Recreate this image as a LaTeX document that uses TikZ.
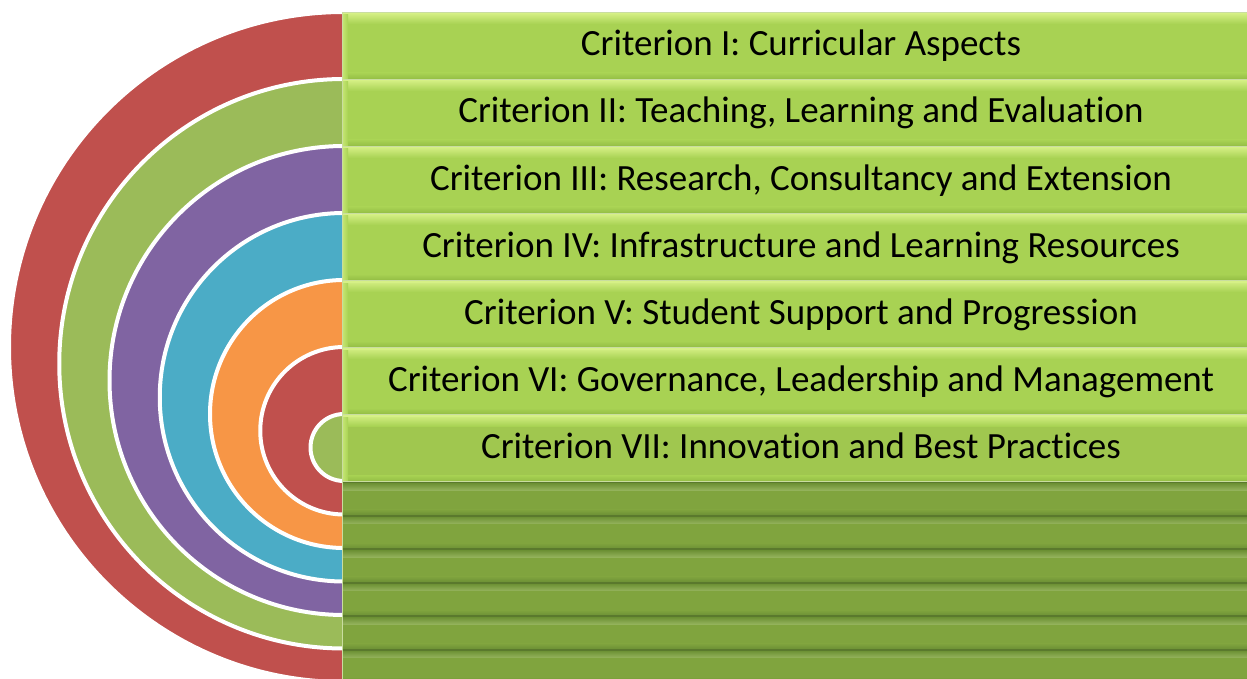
\documentclass[tikz,border=0pt]{standalone}
\usepackage{fontspec}
\setmainfont{Carlito}[Ligatures=CommonOff]
\definecolor{ringred}{HTML}{C0504D}
\definecolor{ringgreen}{HTML}{9BBB59}
\definecolor{ringpurple}{HTML}{8064A2}
\definecolor{ringblue}{HTML}{4BACC6}
\definecolor{ringorange}{HTML}{F79646}
\definecolor{rowlight}{HTML}{A8D253}
\definecolor{rowhi}{HTML}{D6F086}
\definecolor{rowlow}{HTML}{94BE45}
\definecolor{rowdark}{HTML}{80A43E}
\definecolor{rowdarkline}{HTML}{5A792D}
\definecolor{rowdarkmid}{HTML}{6E9236}
\definecolor{rowedge}{HTML}{C9DDA0}
\tikzset{
  lightrow/.style={rectangle, inner sep=0pt, minimum width=918pt, minimum height=67pt,
    fill=rowlight, draw=rowedge, line width=0.7pt,
    text height=26pt, text depth=5pt,
    font=\fontsize{37}{44}\selectfont,
    path picture={
      \fill[rowhi] (path picture bounding box.north west) rectangle ([yshift=-3pt]path picture bounding box.north east);
      \shade[top color=rowhi!80!rowlight, bottom color=rowlight] ([yshift=-3pt]path picture bounding box.north west) rectangle ([yshift=-12pt]path picture bounding box.north east);
      \shade[top color=rowlight, bottom color=rowlow] ([yshift=6pt]path picture bounding box.south west) rectangle (path picture bounding box.south east);
      \shade[left color=rowhi!70!rowlight, right color=rowlight] (path picture bounding box.south west) rectangle ([xshift=6pt,yshift=-3pt]path picture bounding box.north west);
    }},
  darkrow/.style={rectangle, inner sep=0pt, minimum width=918pt, minimum height=33.5pt,
    fill=rowdark, draw=none,
    path picture={
      \fill[rowdarkline] (path picture bounding box.north west) rectangle ([yshift=-2.5pt]path picture bounding box.north east);
      \shade[top color=rowdarkmid, bottom color=rowdark!85!white] ([yshift=-2.5pt]path picture bounding box.north west) rectangle ([yshift=-9pt]path picture bounding box.north east);
      \shade[top color=rowdark, bottom color=rowdarkmid] ([yshift=5pt]path picture bounding box.south west) rectangle (path picture bounding box.south east);
    }},
  ring/.style={draw=white, line width=4pt}
}
\begin{document}
\begin{tikzpicture}[x=1pt,y=-1pt]
\useasboundingbox (0,0) rectangle (1247,679);
\clip (0,0) rectangle (1247,679);
\fill[white] (0,0) rectangle (1247,679);
% rings
\begin{scope}
\clip (0,0) rectangle (343,700);
\foreach \k/\c in {0/ringred,1/ringgreen,2/ringpurple,3/ringblue,4/ringorange,5/ringred,6/ringgreen}{
  \pgfmathsetmacro\ttop{12+67*\k}
  \pgfmathsetmacro\bbot{682-33.5*\k}
  \pgfmathsetmacro\cy{(\ttop+\bbot)/2}
  \pgfmathsetmacro\rr{(\bbot-\ttop)/2}
  \filldraw[ring, fill=\c] (344,\cy) circle[radius=\rr pt];
}
\end{scope}
% dark rows
\foreach \j in {0,...,5}{
  \pgfmathsetmacro\cy{481+16.75+33.5*\j}
  \node[darkrow] (d\j) at (801,\cy) {};
}
% light rows
\node[lightrow] (r1) at (801,45.5) {Criterion I: Curricular Aspects};
\node[lightrow] (r2) at (801,112.5) {Criterion II: Teaching, Learning and Evaluation};
\node[lightrow] (r3) at (801,179.5) {Criterion III: Research, Consultancy and Extension};
\node[lightrow] (r4) at (801,246.5) {Criterion IV: Infrastructure and Learning Resources};
\node[lightrow] (r5) at (801,313.5) {Criterion V: Student Support and Progression};
\node[lightrow] (r6) at (801,380.5) {Criterion VI: Governance, Leadership and Management};
\node[lightrow, fill=rowlight!95!black] (r7) at (801,447.5) {Criterion VII: Innovation and Best Practices};
\draw[rowedge, line width=0.8pt] (342,12) -- (342,679);
\end{tikzpicture}
\end{document}
